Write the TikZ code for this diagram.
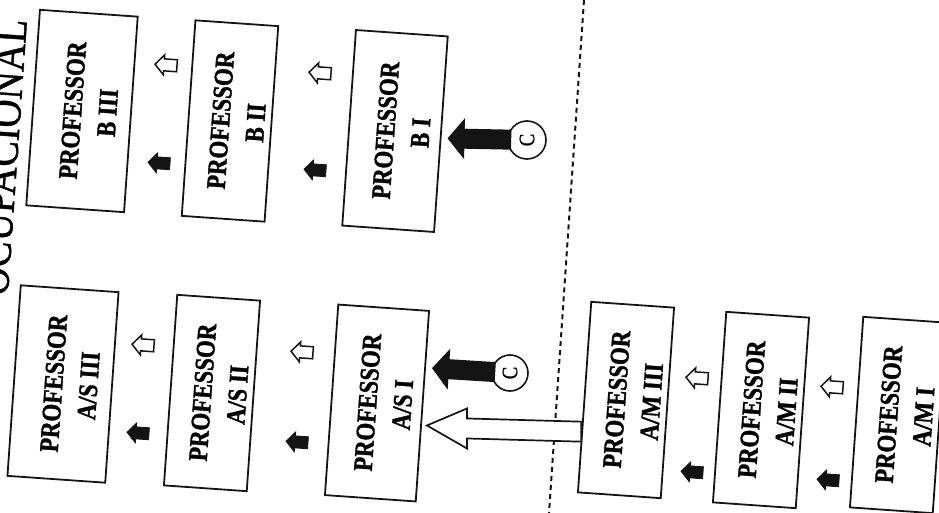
\documentclass[tikz,border=0pt]{standalone}
\usepackage{fontspec}
\setmainfont{Liberation Serif}
\newfontfamily\boxfont{Liberation Serif}[FakeStretch=0.85,BoldFeatures={FakeBold=1.2}]
\newfontfamily\titlefont{Liberation Serif}[FakeStretch=0.85,FakeBold=0.8]
\usetikzlibrary{arrows.meta,calc}
\definecolor{inkscan}{RGB}{20,20,20}
\newcommand{\prof}[1]{\rule{0pt}{41pt}PROFESSOR\\\rule[-7pt]{0pt}{7pt}#1}

\begin{document}
\begin{tikzpicture}[x=1pt,y=-1pt,
    profbox/.style={draw=inkscan,line width=1.8pt,rotate=86,inner sep=0pt,
      minimum width=191pt,align=center,
      font=\boxfont\bfseries\fontsize{27}{35}\selectfont},
    cmark/.style={circle,draw=inkscan,line width=1.6pt,minimum size=38pt,
      inner sep=0pt,font=\titlefont\fontsize{22}{22}\selectfont},
    bigarrow/.style={draw=inkscan,line width=20pt,
      -{Triangle[length=17pt,width=40pt]},shorten <=-4pt,shorten >=6pt},
    hollowarrow/.style={draw=inkscan,line width=1.7pt,fill=white},
    hollowS/.style={draw=inkscan,line width=1.5pt,fill=white,rotate=-4},
    fillS/.style={draw=inkscan,line width=0.8pt,fill=inkscan,rotate=-4},
    dashline/.style={draw=inkscan,line width=2pt,dash pattern=on 5pt off 4pt},
    sarrow/.pic={\path[pic actions] (-11,0) -- (-2,-10) -- (-2,-6) -- (11,-6)
      -- (11,6) -- (-2,6) -- (-2,10) -- cycle;}]
  \useasboundingbox (0,0) rectangle (939,513);

  % ---- title, cut by the page edge
  \node[font=\titlefont\fontsize{46}{46}\selectfont,rotate=86,anchor=base east,
    inner sep=0pt] (title) at (27,20) {OCUPACIONAL};

  % ---- separation line
  \coordinate (dTop) at (584,0);
  \coordinate (dBot) at (549,513);
  \draw[dashline] (dTop) -- (dBot);

  % ---- B column
  \node[profbox,minimum width=196pt,minimum height=98pt] (BIII) at (82,111) {\prof{B III}};
  \node[profbox,minimum width=196pt,minimum height=80pt] (BII) at (230,121) {\prof{B II}};
  \node[profbox,minimum width=196pt,minimum height=92pt] (BI) at (395,131) {\prof{B I}};
  \pic[hollowS] at (166,65) {sarrow};
  \pic[fillS] at (159,163) {sarrow};
  \pic[hollowS] at (320,73) {sarrow};
  \pic[fillS] at (315,170) {sarrow};
  \node[cmark] (cB) at (527,140) {\rotatebox{90}{C}};
  \draw[bigarrow] (cB) -- ($(BI.south east)!0.52!(BI.south west)$);

  % ---- A/S column
  \node[profbox,minimum height=98pt] (ASIII) at (63,384) {\prof{A/S III}};
  \node[profbox,minimum height=79pt] (ASII) at (212,393) {\prof{A/S II}};
  \node[profbox,minimum height=91pt] (ASI) at (377,403) {\prof{A/S I}};
  \pic[hollowS] at (143,345) {sarrow};
  \pic[fillS] at (138,433) {sarrow};
  \pic[hollowS] at (302,352) {sarrow};
  \pic[fillS] at (297,442) {sarrow};
  \node[cmark,minimum size=36pt] (cAS) at (510,373) {\rotatebox{90}{C}};
  \draw[bigarrow] (cAS) -- ($(ASI.south east)!0.3!(ASI.south west)$);

  % ---- A/M column
  \node[profbox,minimum height=80pt] (AMIII) at (626,400) {\prof{A/M III}};
  \node[profbox,minimum height=79pt] (AMII) at (761,410) {\prof{A/M II}};
  \node[profbox,minimum height=78pt] (AMI) at (898,415) {\prof{A/M I}};
  \pic[hollowS] at (697,378) {sarrow};
  \pic[fillS] at (692,472) {sarrow};
  \pic[hollowS] at (832,387) {sarrow};
  \pic[fillS] at (828,480) {sarrow};

  % ---- A/M III up to A/S I
  \coordinate (hTip) at ($(ASI.south east)!0.6!(ASI.south west)+(5,0)$);
  \coordinate (hEnd) at ($(AMIII.north east)!0.68!(AMIII.north west)$);
  \draw[hollowarrow] (hTip) -- ($(hTip)+(40,-17)$) -- ($(hTip)+(40,-7)$)
    -- ($(hEnd)+(0,-10)$) -- ($(hEnd)+(0,10)$) -- ($(hTip)+(40,13)$)
    -- ($(hTip)+(40,23)$) -- cycle;
\end{tikzpicture}
\end{document}
